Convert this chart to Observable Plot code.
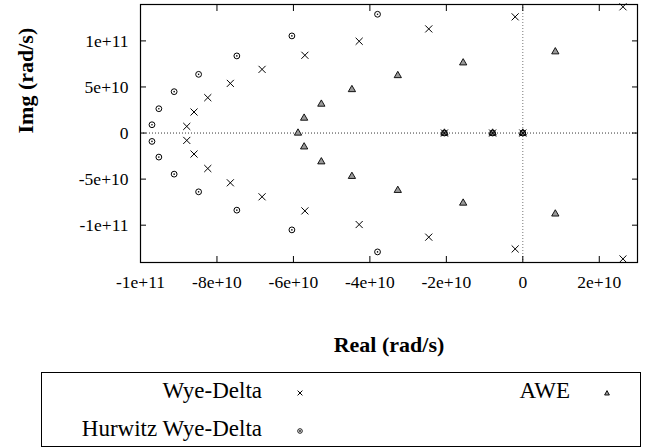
<!DOCTYPE html>
<html>
<head>
<meta charset="utf-8">
<script src="https://cdn.jsdelivr.net/npm/d3@7"></script>
<script src="https://cdn.jsdelivr.net/npm/@observablehq/plot@0.6"></script>
<style>
  html, body { margin: 0; padding: 0; background: white; }
  #wrap { position: relative; width: 645px; height: 447px; font-family: "Liberation Serif", "Times New Roman", serif; }
  #legend { position: absolute; left: 41px; top: 372px; width: 600px; height: 75px; border: 1.5px solid black; box-sizing: border-box; }
  .lt { position: absolute; font-size: 23px; line-height: 23px; white-space: nowrap; color: black; text-align: right; }
  .lm { position: absolute; }
</style>
</head>
<body>
<div id="wrap">
  <div id="chart"></div>
  <div id="legend"></div>
</div>
<script>
// ---- data (Real, Img) in rad/s ----
const seriesNames = ["Wye-Delta", "Hurwitz Wye-Delta", "AWE"];

const wyeDeltaRe = [-8.79e10, -8.60e10, -8.24e10, -7.65e10, -6.82e10, -5.70e10, -4.28e10, -2.46e10, -0.20e10, 2.62e10,
                    -8.79e10, -8.60e10, -8.24e10, -7.65e10, -6.82e10, -5.70e10, -4.28e10, -2.46e10, -0.20e10, 2.62e10,
                    -2.05e10, -0.79e10, 0];
const wyeDeltaIm = [7.2e9, 2.28e10, 3.84e10, 5.39e10, 6.91e10, 8.44e10, 9.96e10, 1.13e11, 1.261e11, 1.37e11,
                    -8.0e9, -2.28e10, -3.85e10, -5.40e10, -6.92e10, -8.45e10, -9.93e10, -1.13e11, -1.258e11, -1.366e11,
                    0, 0, 0];

const hurwitzRe = [-9.70e10, -9.52e10, -9.12e10, -8.48e10, -7.48e10, -6.04e10, -3.80e10,
                   -9.70e10, -9.52e10, -9.12e10, -8.48e10, -7.48e10, -6.04e10, -3.80e10,
                   -2.05e10, -0.79e10, 0];
const hurwitzIm = [9.0e9, 2.64e10, 4.49e10, 6.37e10, 8.37e10, 1.054e11, 1.289e11,
                   -9.1e9, -2.61e10, -4.46e10, -6.38e10, -8.37e10, -1.051e11, -1.290e11,
                   0, 0, 0];

const aweRe = [-5.88e10, -5.72e10, -5.27e10, -4.47e10, -3.27e10, -1.56e10, 0.85e10,
               -5.72e10, -5.27e10, -4.47e10, -3.27e10, -1.56e10, 0.85e10,
               -2.05e10, -0.79e10, 0];
const aweIm = [0, 1.62e10, 3.14e10, 4.72e10, 6.24e10, 7.62e10, 8.82e10,
               -1.50e10, -3.12e10, -4.70e10, -6.22e10, -7.60e10, -8.78e10,
               0, 0, 0];

const xTicks = [-1e11, -8e10, -6e10, -4e10, -2e10, 0, 2e10];
const xTickLabels = ["-1e+11", "-8e+10", "-6e+10", "-4e+10", "-2e+10", "0", "2e+10"];
const yTicks = [-1e11, -5e10, 0, 5e10, 1e11];
const yTickLabels = ["-1e+11", "-5e+10", "0", "5e+10", "1e+11"];
const xLabel = "Real (rad/s)";
const yLabel = "Img (rad/s)";

// ---- build tables ----
const toRows = (re, im) => re.map((r, i) => ({re: r, im: im[i]}));
const wye = toRows(wyeDeltaRe, wyeDeltaIm);
const hur = toRows(hurwitzRe, hurwitzIm);
const awe = toRows(aweRe, aweIm);
const xFmt = new Map(xTicks.map((t, i) => [t, xTickLabels[i]]));
const yFmt = new Map(yTicks.map((t, i) => [t, yTickLabels[i]]));

const serif = "'Liberation Serif', 'Times New Roman', serif";

const chart = Plot.plot({
  width: 645,
  height: 362,
  marginLeft: 140,
  marginRight: 8,
  marginTop: 4,
  marginBottom: 100,
  style: {fontFamily: serif, fontSize: "17.5px", color: "black", background: "white", overflow: "visible"},
  x: {domain: [-1e11, 3e10]},
  y: {domain: [-1.405e11, 1.395e11]},
  marks: [
    Plot.ruleY([0], {stroke: "#333", strokeWidth: 1, strokeDasharray: "1,2"}),
    Plot.ruleX([0], {stroke: "#777", strokeWidth: 1, strokeDasharray: "1,2"}),
    // tick labels
    Plot.axisX(xTicks, {anchor: "bottom", tickSize: 0, tickPadding: 13, tickFormat: d => xFmt.get(d), label: null}),
    Plot.axisY(yTicks, {anchor: "left", tickSize: 0, tickPadding: 12, tickFormat: d => yFmt.get(d), label: null}),
    // inward ticks on all four sides
    Plot.axisX(xTicks, {anchor: "bottom", tickSize: -6, tickFormat: () => "", label: null}),
    Plot.axisX(xTicks, {anchor: "top", tickSize: -6, tickFormat: () => "", label: null}),
    Plot.axisY(yTicks, {anchor: "left", tickSize: -6, tickFormat: () => "", label: null}),
    Plot.axisY(yTicks, {anchor: "right", tickSize: -6, tickFormat: () => "", label: null}),
    Plot.frame({stroke: "black", strokeWidth: 1.2}),
    // axis titles
    Plot.text([xLabel], {frameAnchor: "bottom", dy: 89, fontWeight: "bold", fontSize: 22, fontFamily: serif}),
    Plot.text([yLabel], {frameAnchor: "left", dx: -115, rotate: -90, fontWeight: "bold", fontSize: 22, fontFamily: serif}),
    // series
    Plot.dot(awe, {x: "re", y: "im", symbol: "triangle", r: 2.7, fill: "#999", stroke: "black", strokeWidth: 0.9}),
    Plot.dot(wye, {x: "re", y: "im", symbol: "times", r: 3.3, stroke: "black", strokeWidth: 1}),
    Plot.dot(hur, {x: "re", y: "im", symbol: "circle", r: 2.9, fill: "none", stroke: "black", strokeWidth: 1}),
    Plot.dot(hur, {x: "re", y: "im", symbol: "circle", r: 0.8, fill: "black"})
  ]
});
document.getElementById("chart").appendChild(chart);

// ---- legend (positions relative to the page) ----
const wrap = document.getElementById("wrap");
const legendItems = [
  {name: seriesNames[0], right: 262, baseline: 398, mx: 300, my: 393, sym: "times"},
  {name: seriesNames[1], right: 262, baseline: 436, mx: 300, my: 431, sym: "circle"},
  {name: seriesNames[2], right: 570, baseline: 398, mx: 607, my: 393, sym: "triangle"}
];
const ns = "http://www.w3.org/2000/svg";
for (const it of legendItems) {
  const t = document.createElement("div");
  t.className = "lt";
  t.textContent = it.name;
  t.style.right = (645 - it.right) + "px";
  t.style.top = (it.baseline - 19.3) + "px";
  wrap.appendChild(t);
  const s = document.createElementNS(ns, "svg");
  s.setAttribute("width", 10); s.setAttribute("height", 10);
  s.setAttribute("class", "lm");
  s.style.left = (it.mx - 5) + "px";
  s.style.top = (it.my - 5) + "px";
  const p = document.createElementNS(ns, "path");
  if (it.sym === "times") {
    p.setAttribute("d", "M2.6,2.6L7.4,7.4M7.4,2.6L2.6,7.4");
    p.setAttribute("stroke", "black"); p.setAttribute("stroke-width", "1");
  } else if (it.sym === "circle") {
    p.setAttribute("d", "M7.3,5A2.3,2.3 0 1 1 2.7,5A2.3,2.3 0 1 1 7.3,5ZM5.6,5A0.6,0.6 0 1 1 4.4,5A0.6,0.6 0 1 1 5.6,5Z");
    p.setAttribute("stroke", "black"); p.setAttribute("stroke-width", "0.9"); p.setAttribute("fill", "none");
  } else {
    p.setAttribute("d", "M5,2.6L7.4,7L2.6,7Z");
    p.setAttribute("stroke", "black"); p.setAttribute("stroke-width", "0.9"); p.setAttribute("fill", "#999");
  }
  s.appendChild(p);
  wrap.appendChild(s);
}
</script>
</body>
</html>
